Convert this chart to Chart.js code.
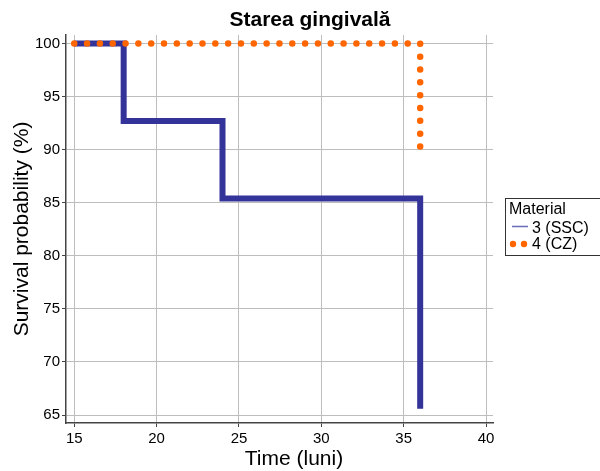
<!DOCTYPE html>
<html>
<head>
<meta charset="utf-8">
<script src="https://cdn.jsdelivr.net/npm/chart.js@4.4.1/dist/chart.umd.min.js"></script>
<style>
    html, body { margin: 0; padding: 0; background: #fff; }
    #wrap { width: 600px; height: 471px; position: relative; }
</style>
</head>
<body>
<div id="wrap"><canvas id="myChart" width="600" height="471"></canvas></div>
<script>
const chartTitle = "Starea gingivală";
const xTitle = "Time (luni)";
const yTitle = "Survival probability (%)";
const legendTitle = "Material";

// Kaplan-Meier steps
const sscLabel = "3 (SSC)";
const sscTime = [15, 18, 24, 36];
const sscSurv = [100, 92.7, 85.4, 65.6];

const czLabel = "4 (CZ)";
const czTime = [15, 36];
const czSurv = [100, 90.3];

const xTicks = [15, 20, 25, 30, 35, 40];
const yTicks = [65, 70, 75, 80, 85, 90, 95, 100];

const blue = "#333399";
const orange = "#ff6600";
const font = "'Liberation Sans', Arial, sans-serif";

const toPoints = (xs, ys) => xs.map((x, i) => ({ x: x, y: ys[i] }));

// title, x title and legend box drawn by hand, like the original figure
const extras = {
    id: "extras",
    afterDraw(chart) {
        const ctx = chart.ctx;
        ctx.save();
        ctx.fillStyle = "#000";
        ctx.textAlign = "center";
        ctx.textBaseline = "middle";
        ctx.font = "bold 21px " + font;
        ctx.fillText(chartTitle, 310, 20);
        ctx.font = "21px " + font;
        ctx.fillText(xTitle, 294, 459);

        // legend
        ctx.strokeStyle = "#333";
        ctx.lineWidth = 1;
        ctx.strokeRect(505.5, 198.5, 100, 57);
        ctx.textAlign = "left";
        ctx.font = "16px " + font;
        ctx.fillText(legendTitle, 509, 210);
        ctx.fillText(sscLabel, 532, 229);
        ctx.fillText(czLabel, 532, 245);

        ctx.strokeStyle = "#6b6bb8";
        ctx.lineWidth = 1.5;
        ctx.beginPath();
        ctx.moveTo(512, 226.5);
        ctx.lineTo(528, 226.5);
        ctx.stroke();

        ctx.fillStyle = orange;
        [513, 524].forEach(cx => {
            ctx.beginPath();
            ctx.arc(cx, 244, 3.2, 0, Math.PI * 2);
            ctx.fill();
        });
        ctx.restore();
    }
};

const ctx = document.getElementById("myChart").getContext("2d");

new Chart(ctx, {
    type: "line",
    data: {
        datasets: [
            {
                label: czLabel,
                data: toPoints(czTime, czSurv),
                stepped: true,
                borderColor: orange,
                borderWidth: 6.5,
                borderDash: [0, 12.826],
                borderCapStyle: "round",
                pointRadius: 0,
                fill: false,
            },
            {
                label: sscLabel,
                data: toPoints(sscTime, sscSurv),
                stepped: true,
                borderColor: blue,
                borderWidth: 6,
                borderJoinStyle: "miter",
                borderCapStyle: "butt",
                pointRadius: 0,
                fill: false,
            },
        ],
    },
    options: {
        responsive: false,
        animation: false,
        events: [],
        layout: {
            padding: { top: 35, right: 107, left: 0, bottom: 0 }
        },
        plugins: {
            legend: { display: false },
            title: { display: false },
            tooltip: { enabled: false },
        },
        scales: {
            x: {
                type: "linear",
                min: 14.5,
                max: 40.42,
                afterBuildTicks: (scale) => {
                    scale.ticks = xTicks.map(v => ({ value: v }));
                },
                afterFit: (scale) => { scale.height = 48; },
                grid: {
                    color: "#bdbdbd",
                    lineWidth: 1,
                    tickLength: 4,
                    tickColor: "#444",
                },
                border: { color: "#444", width: 1.5 },
                ticks: {
                    color: "#000",
                    padding: 3,
                    maxRotation: 0,
                    font: { family: font, size: 15 },
                },
            },
            y: {
                type: "linear",
                min: 64.25,
                max: 100.8,
                afterBuildTicks: (scale) => {
                    scale.ticks = yTicks.map(v => ({ value: v }));
                },
                afterFit: (scale) => { scale.width = 66; },
                grid: {
                    color: "#bdbdbd",
                    lineWidth: 1,
                    tickLength: 4,
                    tickColor: "#444",
                },
                border: { color: "#444", width: 1.5 },
                ticks: {
                    color: "#000",
                    padding: 2,
                    font: { family: font, size: 15 },
                },
                title: {
                    display: true,
                    text: yTitle,
                    color: "#000",
                    font: { family: font, size: 21 },
                    padding: { top: 10, bottom: 0 },
                },
            },
        },
    },
    plugins: [extras],
});
</script>
</body>
</html>
